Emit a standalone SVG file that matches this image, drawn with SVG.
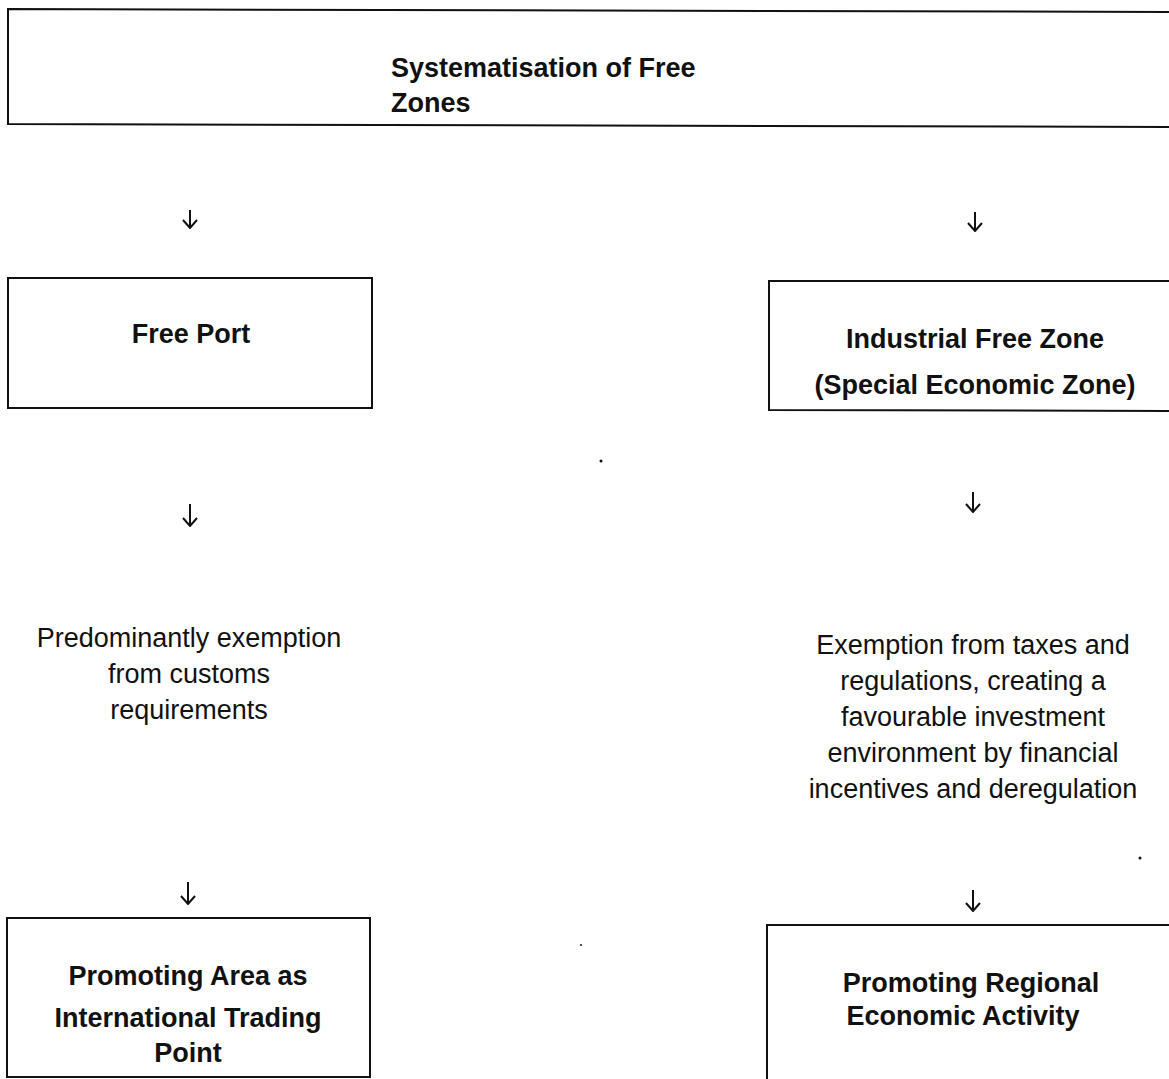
<svg xmlns="http://www.w3.org/2000/svg" width="1169" height="1079" viewBox="0 0 1169 1079">
<defs>
<style>
.box{fill:#fff;stroke:#111;stroke-width:2}
.b{font-family:"Liberation Sans",Arial,sans-serif;font-weight:bold;font-size:27px;fill:#111}
.r{font-family:"Liberation Sans",Arial,sans-serif;font-size:27px;fill:#111}
.c{text-anchor:middle}
.arr{fill:none;stroke:#111;stroke-width:2;marker-end:url(#head)}
</style>
<marker id="head" viewBox="0 0 16 10" refX="8" refY="9" markerWidth="16" markerHeight="10" markerUnits="userSpaceOnUse" orient="0">
<path d="M1,1 L8,9 L15,1" fill="none" stroke="#111" stroke-width="2"/>
</marker>
</defs>
<rect width="1169" height="1079" fill="#fff"/>
<g id="connectors">
<path class="arr" d="M190,210 V228"/>
<path class="arr" d="M975,212 V231"/>
<path class="arr" d="M190,504 V526"/>
<path class="arr" d="M973,492 V512"/>
<path class="arr" d="M188,882 V904"/>
<path class="arr" d="M973,890 V911"/>
</g>
<g id="node-systematisation">
<path class="box" d="M1175,12 L8,9 L8,124 L1175,127"/>
<text class="b" x="391" y="77">Systematisation of Free</text>
<text class="b" x="391" y="112">Zones</text>
</g>
<g id="node-free-port">
<rect class="box" x="8" y="278" width="364" height="130"/>
<text class="b c" x="191" y="343">Free Port</text>
</g>
<g id="node-industrial">
<path class="box" d="M1175,281 L769,281 L769,410 L1175,411"/>
<text class="b c" x="975" y="348">Industrial Free Zone</text>
<text class="b c" x="975" y="394">(Special Economic Zone)</text>
</g>
<g id="node-customs">
<text class="r c" x="189" y="647">Predominantly exemption</text>
<text class="r c" x="189" y="683">from customs</text>
<text class="r c" x="189" y="719">requirements</text>
</g>
<g id="node-taxes">
<text class="r c" x="973" y="654">Exemption from taxes and</text>
<text class="r c" x="973" y="690">regulations, creating a</text>
<text class="r c" x="973" y="726">favourable investment</text>
<text class="r c" x="973" y="762">environment by financial</text>
<text class="r c" x="973" y="798">incentives and deregulation</text>
</g>
<g id="node-trading">
<rect class="box" x="7" y="918" width="363" height="159"/>
<text class="b c" x="188" y="985">Promoting Area as</text>
<text class="b c" x="188" y="1027">International Trading</text>
<text class="b c" x="188" y="1062">Point</text>
</g>
<g id="node-regional">
<path class="box" d="M1175,925 L767,925 L767,1085"/>
<text class="b c" x="971" y="992">Promoting Regional</text>
<text class="b c" x="963" y="1025">Economic Activity</text>
</g>
<g id="marks" fill="#111">
<circle cx="601" cy="461" r="1.5"/>
<circle cx="1140" cy="858" r="1.5"/>
<circle cx="581" cy="945" r="1"/>
</g>
</svg>
